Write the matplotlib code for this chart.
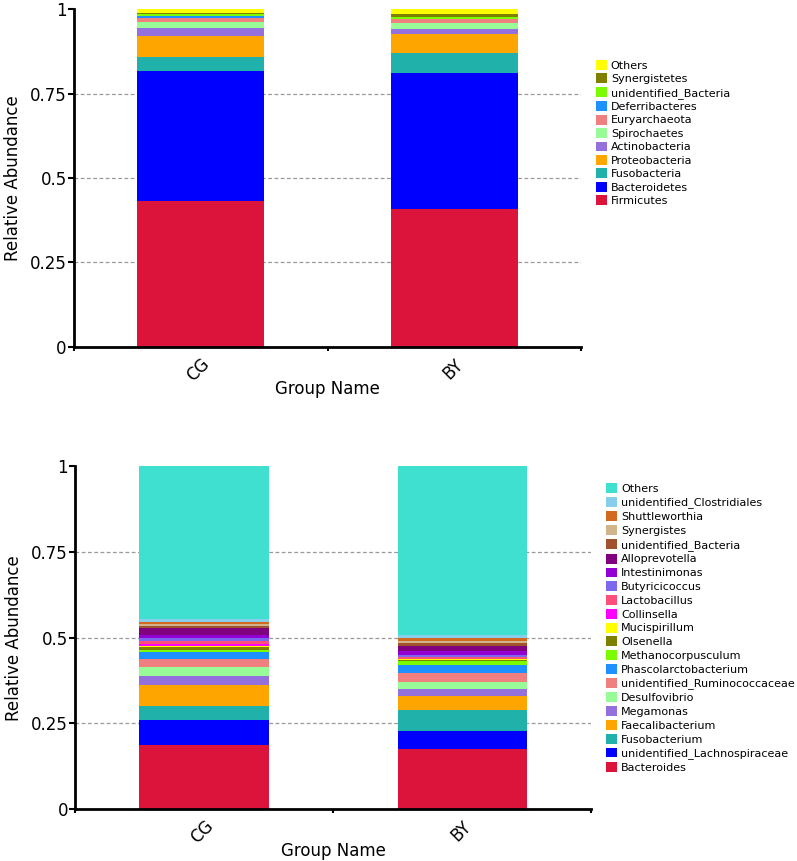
import numpy as np
import matplotlib
matplotlib.use("Agg")
import matplotlib.pyplot as plt
from matplotlib.patches import Patch

groups = ["CG", "BY"]

# ---- phylum level (top panel), bottom-to-top stacking order ----
phylum_names = ["Firmicutes", "Bacteroidetes", "Fusobacteria", "Proteobacteria",
                "Actinobacteria", "Spirochaetes", "Euryarchaeota", "Deferribacteres",
                "unidentified_Bacteria", "Synergistetes", "Others"]
phylum_cg = [0.432, 0.385, 0.042, 0.062, 0.022, 0.018, 0.013, 0.006, 0.004, 0.005, 0.011]
phylum_by = [0.408, 0.402, 0.059, 0.058, 0.014, 0.017, 0.012, 0.002, 0.005, 0.007, 0.016]
phylum_colors = ["#DC143C", "#0000FF", "#20B2AA", "#FFA500", "#9370DB", "#98FB98",
                 "#F08080", "#1E90FF", "#7CFC00", "#808000", "#FFFF00"]

# ---- genus level (bottom panel) ----
genus_names = ["Bacteroides", "unidentified_Lachnospiraceae", "Fusobacterium",
               "Faecalibacterium", "Megamonas", "Desulfovibrio",
               "unidentified_Ruminococcaceae", "Phascolarctobacterium",
               "Methanocorpusculum", "Olsenella", "Mucispirillum", "Collinsella",
               "Lactobacillus", "Butyricicoccus", "Intestinimonas", "Alloprevotella",
               "unidentified_Bacteria", "Synergistes", "Shuttleworthia",
               "unidentified_Clostridiales", "Others"]
genus_cg = [0.187, 0.072, 0.042, 0.061, 0.027, 0.026, 0.022, 0.022, 0.005, 0.008,
            0.005, 0.004, 0.010, 0.008, 0.010, 0.018, 0.007, 0.007, 0.006, 0.007, 0.446]
genus_by = [0.175, 0.053, 0.061, 0.041, 0.019, 0.023, 0.026, 0.023, 0.010, 0.004,
            0.002, 0.002, 0.004, 0.007, 0.010, 0.017, 0.007, 0.007, 0.008, 0.009, 0.492]
genus_colors = ["#DC143C", "#0000FF", "#20B2AA", "#FFA500", "#9370DB", "#98FB98",
                "#F08080", "#1E90FF", "#7CFC00", "#808000", "#FFFF00", "#FF00FF",
                "#FF4F7B", "#7B68EE", "#9400D3", "#800080", "#A0522D", "#D2B48C",
                "#D2691E", "#87CEEB", "#40E0D0"]

yticks = [0, 0.25, 0.5, 0.75, 1]
ytick_labels = ["0", "0.25", "0.5", "0.75", "1"]


def stacked_panel(ax, names, cg, by, colors, legend_center_y, legend_x, spacing):
    x = np.arange(len(groups))
    vals = np.array([cg, by]).T  # taxa x groups
    bottom = np.zeros(len(groups))
    for name, v, c in zip(names, vals, colors):
        ax.bar(x, v, width=0.5, bottom=bottom, color=c, edgecolor="none")
        bottom += v

    for g in [0.25, 0.5, 0.75]:
        ax.axhline(g, color="#999999", lw=0.9, ls=(0, (3, 2)), zorder=0)

    ax.set_xlim(-0.5, 1.5)
    ax.set_ylim(0, 1)
    ax.set_yticks(yticks)
    ax.set_yticklabels(ytick_labels, fontsize=12)
    ax.set_xticks(x)
    ax.set_xticklabels(groups, fontsize=12, rotation=45, ha="right",
                       va="top", rotation_mode="anchor")
    ax.set_xticks([-0.5, 0.5, 1.5], minor=True)
    ax.tick_params(axis="x", which="major", length=0, pad=6)
    ax.tick_params(axis="x", which="minor", length=3, width=1.5)
    ax.tick_params(axis="y", length=4, width=1.5, pad=1)
    ax.set_xlabel("Group Name", fontsize=12, labelpad=-4)
    ax.set_ylabel("Relative Abundance", fontsize=12, labelpad=6)
    for s in ["top", "right"]:
        ax.spines[s].set_visible(False)
    for s in ["left", "bottom"]:
        ax.spines[s].set_linewidth(2)

    handles = [Patch(facecolor=c, edgecolor="none", label=n)
               for n, c in zip(names, colors)][::-1]
    fig.legend(handles=handles, loc="center left",
               bbox_to_anchor=(legend_x, legend_center_y), frameon=False,
               fontsize=8, handlelength=1.0, handleheight=1.0,
               handletextpad=0.35, labelspacing=spacing, borderaxespad=0)


fig = plt.figure(figsize=(7.97, 8.61), dpi=100)
ax1 = fig.add_axes([0.0925, 0.597, 0.637, 0.3925])
ax2 = fig.add_axes([0.094, 0.0604, 0.648, 0.398])

stacked_panel(ax1, phylum_names, phylum_cg, phylum_by, phylum_colors,
              1 - 133 / 861, 0.742, 0.24)
stacked_panel(ax2, genus_names, genus_cg, genus_by, genus_colors,
              1 - 628 / 861, 0.755, 0.27)

fig.savefig("out.png", dpi=100)
